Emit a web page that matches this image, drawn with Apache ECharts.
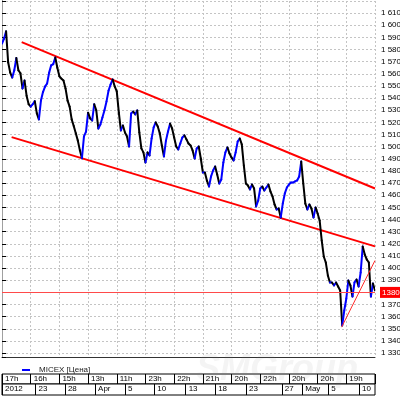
<!DOCTYPE html>
<html><head><meta charset="utf-8">
<script src="https://cdn.jsdelivr.net/npm/echarts@6/dist/echarts.min.js"></script>
<style>html,body{margin:0;padding:0;background:#fff}#c{width:400px;height:396px}</style>
</head><body><div id="c"></div>
<script>
// Hourly MICEX closing prices (sampled), left to right
const prices = [
1585,1589,1595,1569.5,1561,1557,1563,1573,1563,1560.5,
1548,1554.5,1542,1535,1533,1535,1537.5,1527.5,1522.5,1538,
1545,1549.5,1552,1561,1567,1568,1573.5,1565,1558,1556,
1554.5,1548,1538,1533,1522.5,1517,1511,1505,1497,1490.5,
1508.5,1512.5,1528,1523.3,1521.6,1535,1530,1515,1518.3,1524,
1530,1537.3,1546.3,1551.3,1555.4,1549.6,1545.5,1528.2,1513.4,1517.5,
1511.7,1508.4,1500.2,1527.4,1529,1526.6,1529.9,1511.7,1498.6,1495.3,
1487,1495.3,1492.8,1506.8,1515.9,1520,1516.7,1511,1501,1492,
1505,1512.5,1519,1515,1507.6,1500.2,1497.7,1502.7,1507.6,1509.3,
1506,1502.7,1501,1496.9,1490.3,1498.6,1500.2,1490.3,1478.8,1478.8,
1472,1467.2,1475.5,1480.4,1483.7,1477.1,1469.7,1473,1487,1495.3,
1499.4,1494.4,1491.1,1488.7,1495.3,1504.3,1506.8,1501.9,1484.6,1469.7,
1468.1,1464.8,1468.9,1465.6,1450.8,1455.7,1465.6,1467.2,1463.9,1466.4,
1468.9,1463.1,1459,1452.4,1448.3,1449.1,1441.7,1453.2,1461.5,1466.4,
1468.9,1470.5,1470.5,1471.4,1472.2,1475.5,1487.8,1469.7,1453.2,1448.3,
1452.4,1449.1,1441.7,1450,1445,1439.2,1422.8,1409.6,1404.6,1394,
1388.2,1388.2,1385.7,1388.2,1384.9,1381.6,1352.8,1365.1,1375,1389.8,
1385.7,1376.6,1388.2,1390.6,1384.9,1396.4,1417.8,1411.2,1407.1,1404.6,
1376.6,1387.3,1381.6
];
const hourLabels = ['17h','16h','15h','13h','11h','23h','22h','21h','20h','22h','20h','20h','19h'];
const dateLabels = ['2012','23','28','Apr','5','10','13','18','23','27','May','5','10'];
const datePos = [0,16.4,30.7,45.4,60,74.3,89.6,104,119.1,136.5,146.5,159.2,174.2];
const upperLine = [[9.6,1586.1],[182,1465.6]];
const lowerLine = [[4.7,1507.9],[182,1417.9]];
const reboundLine = [[165.7,1351.4],[182,1406.3]];
const lastPrice = 1380;
const seriesName = 'MICEX [Цена]';

const xMax = prices.length - 1;
const segs = prices.slice(0, -1).map((p, i) => [i, p, prices[i + 1]]);
const FONT = '"Liberation Sans", Arial, sans-serif';

function yFmt(v) {
  const r = Math.round(v);
  if (Math.abs(v - r) > 1e-6 || r % 10 !== 0 || r < 1330 || r > 1610 || r === lastPrice) return '';
  const s = String(r);
  return s.slice(0, 1) + ' ' + s.slice(1);
}
const hiddenY = g => ({gridIndex: g, type: 'value', min: 0, max: 1, show: false,
  axisLine: {show: false}, axisTick: {show: false}, axisLabel: {show: false}, splitLine: {show: false}});

const chart = echarts.init(document.getElementById('c'), null, {renderer: 'canvas'});
chart.setOption({
  animation: false,
  backgroundColor: '#fff',
  textStyle: {fontFamily: FONT},
  grid: [
    {left: 2, top: 1, width: 373, height: 356, outerBoundsMode: 'none'},
    {left: 2, top: 374, width: 373, height: 10, show: true, borderColor: '#000', borderWidth: 1, backgroundColor: '#fff', outerBoundsMode: 'none'},
    {left: 2, top: 384, width: 373, height: 11, show: true, borderColor: '#000', borderWidth: 1, backgroundColor: '#fff', outerBoundsMode: 'none'}
  ],
  xAxis: [
    {gridIndex: 0, type: 'value', min: 0, max: xMax, interval: 14, position: 'bottom',
     axisLine: {show: true, onZero: false, lineStyle: {color: '#333'}},
     axisTick: {show: false}, axisLabel: {show: false},
     splitLine: {show: true, lineStyle: {color: '#c4c4c4', type: [2, 2]}}},
    {gridIndex: 1, type: 'value', min: 0, max: xMax, interval: 14, position: 'top',
     axisLine: {show: false, onZero: false},
     axisTick: {show: true, inside: true, length: 10, lineStyle: {color: '#000'}},
     axisLabel: {inside: true, margin: 1, align: 'left', verticalAlign: 'top', padding: [0, 0, 0, 3],
       fontSize: 8, color: '#000', fontFamily: FONT,
       formatter: v => hourLabels[Math.round(v / 14)] || ''},
     splitLine: {show: false}},
    {gridIndex: 2, type: 'value', min: 0, max: xMax, position: 'top',
     axisLine: {show: false, onZero: false},
     axisTick: {show: true, inside: true, length: 11, customValues: datePos, lineStyle: {color: '#000'}},
     axisLabel: {inside: true, margin: 1, align: 'left', verticalAlign: 'top', padding: [0, 0, 0, 3],
       fontSize: 8, color: '#000', fontFamily: FONT, customValues: datePos,
       formatter: v => { const k = datePos.indexOf(v); return k >= 0 ? dateLabels[k] : ''; }},
     splitLine: {show: false}}
  ],
  yAxis: [
    {gridIndex: 0, type: 'value', position: 'right', min: 1326.8, max: 1620,
     splitNumber: 29, minInterval: 10, maxInterval: 10,
     axisLine: {show: true, lineStyle: {color: '#000'}},
     axisTick: {show: true, length: 4, lineStyle: {color: '#000'}},
     axisLabel: {margin: 6, fontSize: 8, color: '#000', fontFamily: FONT, formatter: yFmt},
     splitLine: {show: true, lineStyle: {color: '#c4c4c4', type: [2, 2]}}},
    {gridIndex: 0, type: 'value', position: 'left', min: 1326.8, max: 1620,
     axisLine: {show: true, onZero: false, lineStyle: {color: '#a0a0a0'}},
     axisTick: {show: false}, axisLabel: {show: false}, splitLine: {show: false}},
    hiddenY(1),
    hiddenY(2)
  ],
  legend: {left: 17, top: 361, itemWidth: 8, itemHeight: 2, selectedMode: false,
    data: [{name: seriesName, icon: 'rect'}],
    textStyle: {fontSize: 8, color: '#222', fontFamily: FONT, padding: [0, 0, 0, 4]}},
  graphic: [{type: 'text', left: 196, top: 352, z: 100, silent: true,
    style: {text: 'SMGroup', font: 'italic bold 36px "Liberation Sans"', fill: 'rgba(130,130,130,0.09)'}}],
  series: [
    {type: 'line', name: 'upper', xAxisIndex: 0, yAxisIndex: 0, data: upperLine, symbol: 'none', silent: true, z: 3,
     lineStyle: {color: '#ff0000', width: 2},
     markLine: {symbol: 'none', silent: true, data: [{yAxis: lastPrice}],
       lineStyle: {color: '#ff4a4a', width: 1, type: 'solid'},
       label: {position: 'end', distance: 5, formatter: String(lastPrice), backgroundColor: '#ff0000', color: '#fff',
         fontSize: 8, fontFamily: FONT, padding: [2, 6, 1, 2]}}},
    {type: 'line', name: 'lower', xAxisIndex: 0, yAxisIndex: 0, data: lowerLine, symbol: 'none', silent: true, z: 3,
     lineStyle: {color: '#ff0000', width: 2}},
    {type: 'line', name: 'rebound', xAxisIndex: 0, yAxisIndex: 0, data: reboundLine, symbol: 'none', silent: true, z: 5,
     lineStyle: {color: '#ff2a2a', width: 1}},
    {type: 'custom', name: seriesName, xAxisIndex: 0, yAxisIndex: 0, data: segs, clip: true, z: 4,
     encode: {x: 0, y: [1, 2]},
     itemStyle: {color: '#0000ff'},
     renderItem: (params, api) => {
       const i = api.value(0), a = api.value(1), b = api.value(2);
       const p1 = api.coord([i, a]), p2 = api.coord([i + 1, b]);
       return {type: 'line', shape: {x1: p1[0], y1: p1[1], x2: p2[0], y2: p2[1]},
         style: {stroke: b >= a ? '#0000ff' : '#000000', lineWidth: 2, lineCap: 'round'}};
     }}
  ]
});
</script></body></html>
